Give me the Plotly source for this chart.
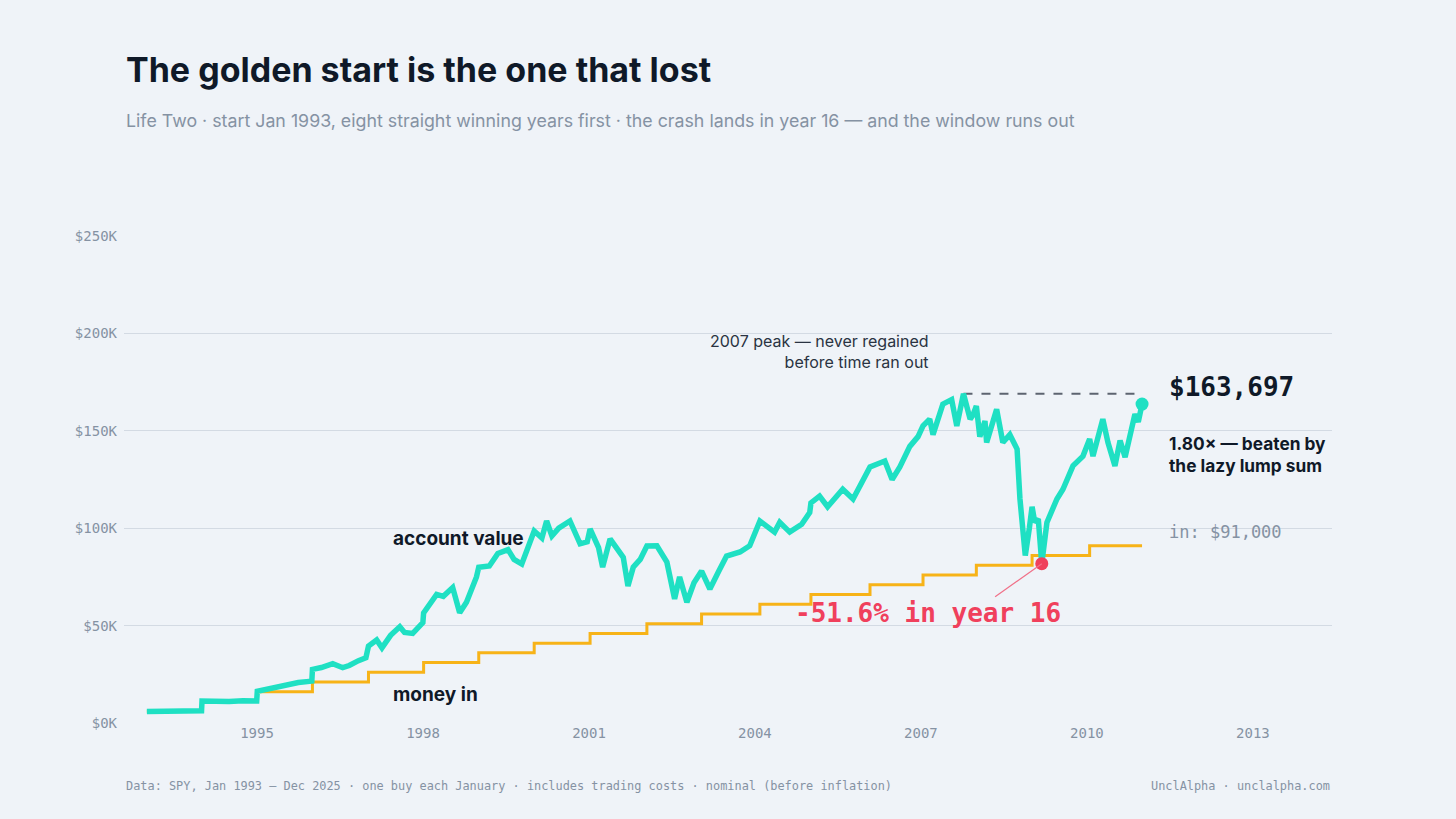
import plotly.graph_objects as go

# ---------------- data ----------------
account_dates = [
    "1993-01-04", "1993-04-01", "1993-07-01", "1993-10-01", "1993-12-31",
    "1994-01-03", "1994-04-01", "1994-07-01", "1994-10-01", "1994-12-30",
    "1995-01-03", "1995-04-01", "1995-07-01", "1995-10-01", "1995-12-29",
    "1996-01-02", "1996-03-01", "1996-05-15", "1996-07-20", "1996-09-01", "1996-11-01", "1996-12-20",
    "1997-01-06", "1997-03-01", "1997-04-05", "1997-06-01", "1997-08-01", "1997-09-01", "1997-10-25", "1997-12-31",
    "1998-01-05", "1998-04-01", "1998-05-15", "1998-07-16", "1998-08-31", "1998-10-15", "1998-12-20",
    "1999-01-04", "1999-03-15", "1999-05-10", "1999-07-16", "1999-08-25", "1999-10-15", "1999-12-10",
    "2000-01-05", "2000-02-25", "2000-03-27", "2000-05-01", "2000-06-15", "2000-08-28", "2000-10-01", "2000-11-03", "2000-12-20",
    "2001-01-08", "2001-03-05", "2001-04-01", "2001-05-20", "2001-07-01", "2001-08-15", "2001-09-15", "2001-10-20", "2001-12-05",
    "2002-01-18", "2002-03-25", "2002-05-30", "2002-07-20", "2002-08-22", "2002-10-09", "2002-11-25",
    "2003-01-14", "2003-03-10", "2003-05-08", "2003-06-28", "2003-09-25", "2003-11-28",
    "2004-02-03", "2004-03-22", "2004-05-10", "2004-06-13", "2004-08-18", "2004-11-05", "2004-12-28",
    "2005-01-05", "2005-03-03", "2005-04-25", "2005-08-03", "2005-10-10", "2005-12-06",
    "2006-01-30", "2006-05-08", "2006-06-25", "2006-08-15", "2006-10-20", "2006-12-13",
    "2007-01-15", "2007-02-28", "2007-03-22", "2007-05-26", "2007-07-23", "2007-08-26", "2007-10-09", "2007-11-22", "2007-12-10",
    "2008-01-02", "2008-01-25", "2008-02-28", "2008-03-10", "2008-05-15", "2008-06-25", "2008-08-10", "2008-09-27",
    "2008-10-16", "2008-10-31", "2008-11-20", "2008-12-17",
    "2009-01-04", "2009-01-22", "2009-02-14", "2009-03-09", "2009-04-12", "2009-06-17", "2009-07-27", "2009-10-01", "2009-12-06",
    "2010-01-19", "2010-02-10", "2010-04-16", "2010-05-20", "2010-07-05", "2010-08-08", "2010-09-10", "2010-10-12",
    "2010-11-14", "2010-12-06", "2010-12-31",
]
account_value = [
    5900, 6000, 6100, 6300, 6300,
    11300, 11000, 11100, 11400, 11300,
    16300, 17800, 19300, 20800, 21500,
    27500, 28500, 30500, 28400, 29500, 32000, 33500,
    39500, 42600, 38600, 45000, 49400, 46500, 46000, 51500,
    56500, 66000, 65000, 69500, 56600, 62000, 75000,
    80000, 80600, 87000, 89000, 84000, 81600, 92000,
    98600, 95000, 103700, 96000, 100000, 103700, 98000, 92000, 93000,
    99600, 90000, 80000, 94500, 90000, 85000, 70300, 80000, 84000,
    90900, 91000, 82600, 63700, 75000, 62000, 72000,
    78000, 68800, 78000, 85700, 87800, 91000,
    103700, 100600, 98000, 103000, 98000, 102000, 108000,
    113000, 116500, 111000, 120000, 115000, 123700,
    131400, 134500, 125000, 131400, 142000, 147000,
    152500, 156000, 148000, 163700, 166000, 152500, 169000, 156000, 158000,
    162700, 147000, 155000, 144000, 161000, 144000, 148000, 140600,
    115000, 99600, 86000, 100000,
    111000, 103000, 104700, 81800, 103000, 115000, 120000, 132000, 137000,
    145800, 137000, 156000, 144000, 132000, 145000, 136500, 149000,
    158600, 154500, 163697,
]

buy_dates = [
    "1993-01-04", "1994-01-03", "1995-01-03", "1996-01-02", "1997-01-06", "1998-01-05",
    "1999-01-04", "2000-01-05", "2001-01-08", "2002-01-18", "2003-01-14", "2004-02-03",
    "2005-01-05", "2006-01-30", "2007-01-15", "2008-01-02", "2009-01-04", "2010-01-19",
    "2010-12-31",
]
money_in = [
    6000, 11000, 16000, 21000, 26000, 31000, 36000, 41000, 46000, 51000,
    56000, 61000, 66000, 71000, 76000, 81000, 86000, 91000, 91000,
]

peak_date = "2007-10-09"
peak_value = 169000
trough_date = "2009-03-09"
trough_value = 81800
end_date = "2010-12-31"
end_value = 163697

year_ticks = ["1995-01-01", "1998-01-01", "2001-01-01", "2004-01-01", "2007-01-01", "2010-01-01", "2013-01-01"]
year_labels = ["1995", "1998", "2001", "2004", "2007", "2010", "2013"]
y_ticks = [0, 50000, 100000, 150000, 200000, 250000]
y_labels = ["$0K", "$50K", "$100K", "$150K", "$200K", "$250K"]

# ---------------- style ----------------
BG = "#eff3f8"
TEAL = "#1fe0c3"
ORANGE = "#f7b318"
RED = "#f0405c"
DARK = "#0f1928"
MUTED = "#8592a3"
GRID = "#d3dae3"
SANS = "Inter, Lato, 'Noto Sans', sans-serif"
MONO = "'DejaVu Sans Mono', 'Liberation Mono', monospace"

W, H = 1456, 819
L, R, T, B = 124, 124, 236, 96
plot_h = H - T - B


def py(ypix):
    return (H - B - ypix) / plot_h


fig = go.Figure()

fig.add_trace(go.Scatter(
    x=buy_dates, y=money_in, mode="lines", line=dict(color=ORANGE, width=3, shape="hv"),
    hoverinfo="skip"))

fig.add_trace(go.Scatter(
    x=[peak_date, end_date], y=[peak_value, peak_value], mode="lines",
    line=dict(color="#5d6470", width=2, dash="dash"), hoverinfo="skip"))

fig.add_trace(go.Scatter(
    x=account_dates, y=account_value, mode="lines",
    line=dict(color=TEAL, width=5.5, shape="linear"), hoverinfo="skip"))

fig.add_trace(go.Scatter(
    x=[end_date], y=[end_value], mode="markers",
    marker=dict(color=TEAL, size=13), hoverinfo="skip"))

fig.add_shape(type="line", xref="x", yref="y",
              x0=trough_date, y0=trough_value, x1="2008-05-05", y1=64800,
              line=dict(color="#f07088", width=1.2))

fig.add_trace(go.Scatter(
    x=[trough_date], y=[trough_value], mode="markers",
    marker=dict(color=RED, size=13), hoverinfo="skip"))

ann = []
ann.append(dict(text="<b>The golden start is the one that lost</b>", xref="paper", yref="paper",
                x=0, y=py(70), xanchor="left", yanchor="middle", showarrow=False,
                font=dict(family=SANS, size=34, color=DARK)))
ann.append(dict(text="Life Two · start Jan 1993, eight straight winning years first · the crash lands in year 16 — and the window runs out",
                xref="paper", yref="paper", x=0, y=py(120), xanchor="left", yanchor="middle",
                showarrow=False, font=dict(family=SANS, size=17.8, color=MUTED)))
ann.append(dict(text="Data: SPY, Jan 1993 – Dec 2025 · one buy each January · includes trading costs · nominal (before inflation)",
                xref="paper", yref="paper", x=0, y=py(786), xanchor="left", yanchor="middle",
                showarrow=False, font=dict(family=MONO, size=11.9, color=MUTED)))
ann.append(dict(text="UnclAlpha · unclalpha.com", xref="paper", yref="paper", x=1, y=py(786),
                xanchor="right", yanchor="middle", showarrow=False,
                font=dict(family=MONO, size=11.9, color=MUTED)))
ann.append(dict(text="<b>account value</b>", xref="x", yref="y", x="1997-06-03", y=94600,
                xanchor="left", yanchor="middle", showarrow=False,
                font=dict(family=SANS, size=19, color=DARK)))
ann.append(dict(text="<b>money in</b>", xref="x", yref="y", x="1997-06-03", y=14500,
                xanchor="left", yanchor="middle", showarrow=False,
                font=dict(family=SANS, size=19, color=DARK)))
ann.append(dict(text="2007 peak — never regained<br>before time ran out", xref="x", yref="y",
                x="2007-03-08", y=190500, xanchor="right", yanchor="middle", align="right",
                showarrow=False, font=dict(family=SANS, size=16, color="#2a3342")))
ann.append(dict(text="<b>$163,697</b>", xref="x", yref="y", x="2011-06-14", y=172500,
                xanchor="left", yanchor="middle", showarrow=False,
                font=dict(family=MONO, size=26, color=DARK)))
ann.append(dict(text="<b>1.80× — beaten by<br>the lazy lump sum</b>", xref="x", yref="y",
                x="2011-06-14", y=138000, xanchor="left", yanchor="middle", align="left",
                showarrow=False, font=dict(family=SANS, size=17.3, color=DARK)))
ann.append(dict(text="in: $91,000", xref="x", yref="y", x="2011-06-14", y=98200,
                xanchor="left", yanchor="middle", showarrow=False,
                font=dict(family=MONO, size=17, color=MUTED)))
ann.append(dict(text="<b>-51.6% in year 16</b>", xref="x", yref="y", x="2007-02-15", y=56600,
                xanchor="center", yanchor="middle", showarrow=False,
                font=dict(family=MONO, size=26, color=RED)))

fig.update_layout(
    width=W, height=H,
    margin=dict(l=L, r=R, t=T, b=B),
    paper_bgcolor=BG, plot_bgcolor=BG,
    showlegend=False,
    annotations=ann,
    xaxis=dict(type="date", range=["1992-08-06", "2014-06-07"], tickvals=year_ticks,
               ticktext=year_labels, showgrid=False, zeroline=False, showline=False,
               ticks="", tickfont=dict(family=MONO, size=14, color=MUTED)),
    yaxis=dict(range=[0, 250000], tickvals=y_ticks, ticktext=y_labels, showgrid=True,
               gridcolor=GRID, gridwidth=1, zeroline=False, showline=False, ticks="",
               ticklabelstandoff=6,
               tickfont=dict(family=MONO, size=14, color=MUTED)),
)

fig.write_html("out.html")
